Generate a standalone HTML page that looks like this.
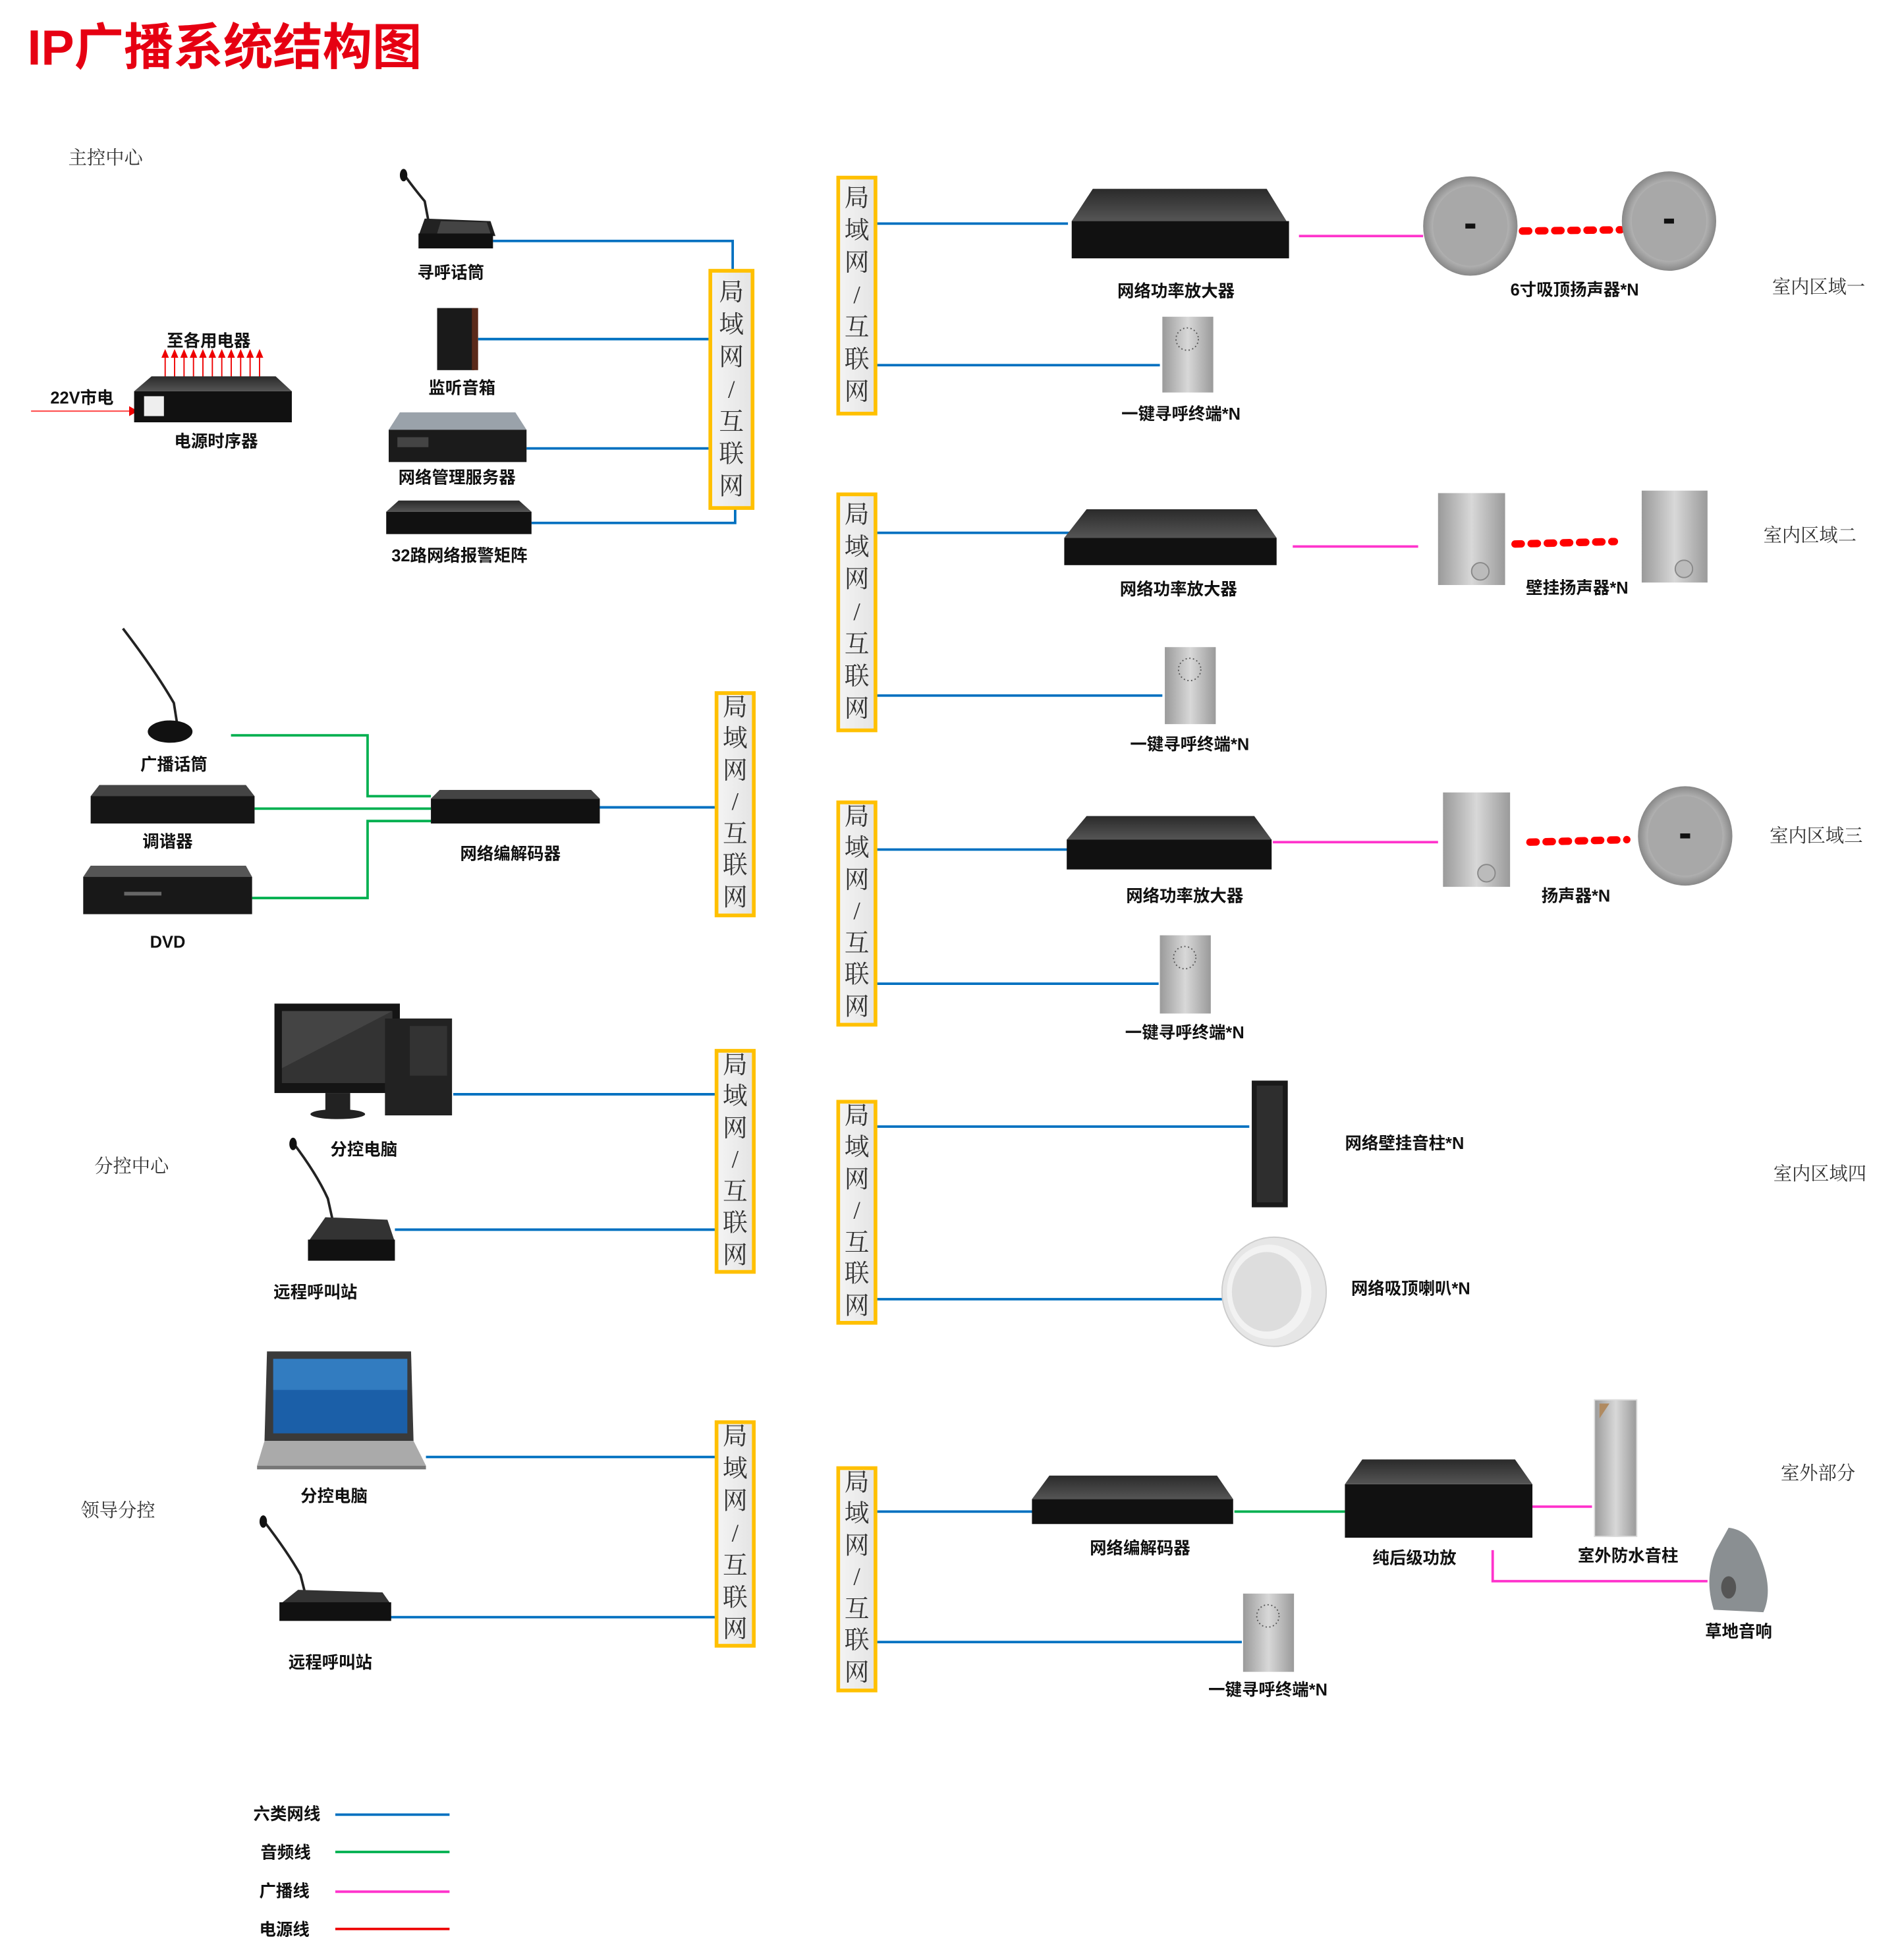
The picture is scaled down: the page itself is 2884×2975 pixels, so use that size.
<!DOCTYPE html>
<html><head><meta charset="utf-8"><style>
html,body{margin:0;padding:0;background:#fff}
svg{display:block}
.l{font-family:"Liberation Sans","Noto Sans CJK SC",sans-serif;font-weight:bold;font-size:13.5px;fill:#111;text-anchor:middle}
.z{font-family:"Liberation Serif","Noto Serif CJK SC",serif;font-size:15px;fill:#333}
.n{font-family:"Liberation Serif","Noto Serif CJK SC",serif;font-size:20px;fill:#333;text-anchor:middle}
.b{stroke:#0070C0;stroke-width:2;fill:none}
.g{stroke:#00B050;stroke-width:2;fill:none}
.p{stroke:#FF33CC;stroke-width:2;fill:none}
</style></head><body>
<svg width="2884" height="2975" viewBox="0 0 1530 1578" preserveAspectRatio="none" xmlns="http://www.w3.org/2000/svg">
<defs>
<linearGradient id="lan" x1="0" x2="1"><stop offset="0" stop-color="#f4f4f4"/><stop offset="1" stop-color="#e4e4e4"/></linearGradient>
<linearGradient id="top" x1="0" y1="0" x2="0" y2="1"><stop offset="0" stop-color="#2a2a2a"/><stop offset="1" stop-color="#555"/></linearGradient>
<linearGradient id="sil" x1="0" x2="1"><stop offset="0" stop-color="#9a9a9a"/><stop offset=".5" stop-color="#d8d8d8"/><stop offset="1" stop-color="#9a9a9a"/></linearGradient>
<radialGradient id="spk"><stop offset="0" stop-color="#c8c8c8"/><stop offset=".8" stop-color="#b0b0b0"/><stop offset="1" stop-color="#888"/></radialGradient>
</defs>

<text x="22" y="52" font-family="Liberation Sans,'Noto Sans CJK SC',sans-serif" font-weight="bold" font-size="40" fill="#e60012">IP广播系统结构图</text>
<text class="z" x="55" y="132">主控中心</text>
<text class="z" x="76" y="944">分控中心</text>
<text class="z" x="65" y="1221">领导分控</text>
<text class="z" x="1427" y="236">室内区域一</text>
<text class="z" x="1420" y="436">室内区域二</text>
<text class="z" x="1425" y="678">室内区域三</text>
<text class="z" x="1428" y="950">室内区域四</text>
<text class="z" x="1434" y="1191">室外部分</text>

<polyline class="b" points="397,194 590,194 590,217"/>
<line class="b" x1="385" y1="273" x2="571" y2="273"/>
<line class="b" x1="424" y1="361" x2="571" y2="361"/>
<polyline class="b" points="428,421 592,421 592,410"/>
<line class="b" x1="705" y1="180" x2="860" y2="180"/>
<line class="b" x1="705" y1="294" x2="934" y2="294"/>
<line class="b" x1="705" y1="429" x2="862" y2="429"/>
<line class="b" x1="705" y1="560" x2="936" y2="560"/>
<line class="b" x1="483" y1="650" x2="576" y2="650"/>
<line class="b" x1="705" y1="684" x2="860" y2="684"/>
<line class="b" x1="705" y1="792" x2="933" y2="792"/>
<line class="b" x1="365" y1="881" x2="576" y2="881"/>
<line class="b" x1="318" y1="990" x2="576" y2="990"/>
<line class="b" x1="705" y1="907" x2="1006" y2="907"/>
<line class="b" x1="705" y1="1046" x2="985" y2="1046"/>
<line class="b" x1="343" y1="1173" x2="576" y2="1173"/>
<line class="b" x1="313" y1="1302" x2="576" y2="1302"/>
<line class="b" x1="705" y1="1217" x2="832" y2="1217"/>
<line class="b" x1="705" y1="1322" x2="1000" y2="1322"/>
<polyline class="g" points="186,592 296,592 296,641 347,641"/>
<line class="g" x1="205" y1="651" x2="347" y2="651"/>
<polyline class="g" points="203,723 296,723 296,661 347,661"/>
<line class="g" x1="994" y1="1217" x2="1083" y2="1217"/>
<line class="p" x1="1046" y1="190" x2="1146" y2="190"/>
<line class="p" x1="1041" y1="440" x2="1142" y2="440"/>
<line class="p" x1="1025" y1="678" x2="1158" y2="678"/>
<line class="p" x1="1234" y1="1213" x2="1282" y2="1213"/>
<polyline class="p" points="1202,1248 1202,1273 1375,1273"/>
<g stroke="#f00" stroke-width="6" stroke-dasharray="5,8" stroke-linecap="round">
<line x1="1226" y1="186" x2="1305" y2="185"/>
<line x1="1220" y1="438" x2="1300" y2="436"/>
<line x1="1232" y1="678" x2="1310" y2="676"/>
</g>
<line x1="25" y1="331" x2="104" y2="331" stroke="#f55" stroke-width="1.2"/>
<polygon points="104,327 111,331 104,335" fill="#e00"/>
<g stroke="#e00" stroke-width="1">
<line x1="133" y1="312" x2="133" y2="287"/><line x1="140.6" y1="312" x2="140.6" y2="287"/><line x1="148.2" y1="312" x2="148.2" y2="287"/><line x1="155.8" y1="312" x2="155.8" y2="287"/><line x1="163.4" y1="312" x2="163.4" y2="287"/><line x1="171" y1="312" x2="171" y2="287"/><line x1="178.6" y1="312" x2="178.6" y2="287"/><line x1="186.2" y1="312" x2="186.2" y2="287"/><line x1="193.8" y1="312" x2="193.8" y2="287"/><line x1="201.4" y1="312" x2="201.4" y2="287"/><line x1="209" y1="312" x2="209" y2="287"/>
</g>
<g fill="#e00">
<polygon points="130,288 133,281 136,288"/><polygon points="137.6,288 140.6,281 143.6,288"/><polygon points="145.2,288 148.2,281 151.2,288"/><polygon points="152.8,288 155.8,281 158.8,288"/><polygon points="160.4,288 163.4,281 166.4,288"/><polygon points="168,288 171,281 174,288"/><polygon points="175.6,288 178.6,281 181.6,288"/><polygon points="183.2,288 186.2,281 189.2,288"/><polygon points="190.8,288 193.8,281 196.8,288"/><polygon points="198.4,288 201.4,281 204.4,288"/><polygon points="206,288 209,281 212,288"/>
</g>

<g stroke="#FFC000" stroke-width="3" fill="url(#lan)">
<rect x="572" y="218" width="34" height="191"/>
<rect x="675" y="143" width="30" height="190"/>
<rect x="675" y="398" width="30" height="190"/>
<rect x="577" y="558" width="30" height="179"/>
<rect x="675" y="646" width="30" height="179"/>
<rect x="577" y="846" width="30" height="178"/>
<rect x="675" y="887" width="30" height="178"/>
<rect x="577" y="1145" width="30" height="180"/>
<rect x="675" y="1182" width="30" height="179"/>
</g>
<g class="n">
<text x="589" y="242">局</text><text x="589" y="268">域</text><text x="589" y="294">网</text><text x="589" y="320">/</text><text x="589" y="346">互</text><text x="589" y="372">联</text><text x="589" y="398">网</text>
<text x="690" y="166">局</text><text x="690" y="192">域</text><text x="690" y="218">网</text><text x="690" y="244">/</text><text x="690" y="270">互</text><text x="690" y="296">联</text><text x="690" y="322">网</text>
<text x="690" y="421">局</text><text x="690" y="447">域</text><text x="690" y="473">网</text><text x="690" y="499">/</text><text x="690" y="525">互</text><text x="690" y="551">联</text><text x="690" y="577">网</text>
<text x="592" y="576">局</text><text x="592" y="601">域</text><text x="592" y="627">网</text><text x="592" y="652">/</text><text x="592" y="678">互</text><text x="592" y="703">联</text><text x="592" y="729">网</text>
<text x="690" y="664">局</text><text x="690" y="689">域</text><text x="690" y="715">网</text><text x="690" y="740">/</text><text x="690" y="766">互</text><text x="690" y="791">联</text><text x="690" y="817">网</text>
<text x="592" y="864">局</text><text x="592" y="889">域</text><text x="592" y="915">网</text><text x="592" y="940">/</text><text x="592" y="966">互</text><text x="592" y="991">联</text><text x="592" y="1017">网</text>
<text x="690" y="905">局</text><text x="690" y="930">域</text><text x="690" y="956">网</text><text x="690" y="981">/</text><text x="690" y="1007">互</text><text x="690" y="1032">联</text><text x="690" y="1058">网</text>
<text x="592" y="1163">局</text><text x="592" y="1189">域</text><text x="592" y="1215">网</text><text x="592" y="1241">/</text><text x="592" y="1267">互</text><text x="592" y="1293">联</text><text x="592" y="1318">网</text>
<text x="690" y="1200">局</text><text x="690" y="1225">域</text><text x="690" y="1251">网</text><text x="690" y="1276">/</text><text x="690" y="1302">互</text><text x="690" y="1327">联</text><text x="690" y="1353">网</text>
</g>

<g>
<path d="M325,140 Q332,150 342,162 L345,178" stroke="#222" stroke-width="2" fill="none"/><ellipse cx="325" cy="141" rx="3" ry="5" fill="#111"/>
<polygon points="342,176 395,178 399,190 337,190" fill="#222"/><rect x="337" y="188" width="60" height="12" fill="#111"/><polygon points="355,178 392,179 395,188 352,188" fill="#444"/>
<rect x="352" y="248" width="30" height="50" fill="#1a1a1a"/><rect x="380" y="248" width="5" height="50" fill="#5a2a1a"/>
<polygon points="122,303 222,303 235,315 108,315" fill="url(#top)"/><rect x="108" y="315" width="127" height="25" fill="#111"/><rect x="116" y="319" width="16" height="16" fill="#eee"/>
<polygon points="322,332 415,332 424,346 313,346" fill="#9aa2aa"/><rect x="313" y="346" width="111" height="26" fill="#1b1b1b"/><rect x="320" y="352" width="25" height="8" fill="#444"/>
<polygon points="321,403 418,403 428,412 311,412" fill="url(#top)"/><rect x="311" y="412" width="117" height="18" fill="#111"/>
<path d="M99,506 Q125,540 140,566 L143,585" stroke="#222" stroke-width="2" fill="none"/><ellipse cx="137" cy="589" rx="18" ry="9" fill="#111"/>
<polygon points="80,632 198,632 205,641 73,641" fill="#444"/><rect x="73" y="641" width="132" height="22" fill="#151515"/>
<polygon points="73,697 198,697 203,706 67,706" fill="#555"/><rect x="67" y="706" width="136" height="30" fill="#181818"/><rect x="100" y="718" width="30" height="3" fill="#666"/>
<polygon points="354,636 476,636 483,643 347,643" fill="#444"/><rect x="347" y="643" width="136" height="20" fill="#111"/>
<rect x="221" y="808" width="101" height="72" fill="#151515"/><rect x="227" y="814" width="89" height="58" fill="#333"/><polygon points="227,814 316,814 227,860" fill="#555" opacity=".5"/><rect x="262" y="880" width="20" height="15" fill="#222"/><ellipse cx="272" cy="897" rx="22" ry="4" fill="#222"/>
<rect x="310" y="820" width="54" height="78" fill="#222"/><rect x="330" y="826" width="30" height="40" fill="#333"/>
<path d="M236,920 Q255,945 264,965 L268,983" stroke="#222" stroke-width="2" fill="none"/><ellipse cx="236" cy="921" rx="3" ry="5" fill="#111"/>
<polygon points="262,980 312,982 318,1000 248,1000" fill="#333"/><rect x="248" y="998" width="70" height="17" fill="#111"/>
<polygon points="215,1088 331,1088 333,1160 213,1160" fill="#3a3a3a"/><rect x="220" y="1094" width="108" height="60" fill="#1b5fa8"/><rect x="220" y="1094" width="108" height="25" fill="#4a9ad8" opacity=".5"/>
<polygon points="213,1160 333,1160 343,1180 207,1180" fill="#aaa"/><rect x="207" y="1180" width="136" height="3" fill="#777"/>
<path d="M212,1224 Q232,1250 242,1268 L246,1284" stroke="#222" stroke-width="2" fill="none"/><ellipse cx="212" cy="1225" rx="3" ry="5" fill="#111"/>
<polygon points="240,1280 308,1282 315,1292 225,1292" fill="#333"/><rect x="225" y="1290" width="90" height="15" fill="#111"/>

<polygon points="880,152 1020,152 1036,178 863,178" fill="url(#top)"/><rect x="863" y="178" width="175" height="30" fill="#111"/>
<ellipse cx="1184" cy="182" rx="38" ry="40" fill="url(#spk)"/><ellipse cx="1184" cy="182" rx="30" ry="32" fill="#a8a8a8"/><rect x="1180" y="180" width="8" height="4" fill="#111"/>
<ellipse cx="1344" cy="178" rx="38" ry="40" fill="url(#spk)"/><ellipse cx="1344" cy="178" rx="30" ry="32" fill="#a8a8a8"/><rect x="1340" y="176" width="8" height="4" fill="#111"/>
<rect x="936" y="255" width="41" height="61" fill="url(#sil)"/><circle cx="956" cy="273" r="9" fill="none" stroke="#555" stroke-dasharray="1,2"/>
<polygon points="875,410 1012,410 1028,433 857,433" fill="url(#top)"/><rect x="857" y="433" width="171" height="22" fill="#111"/>
<rect x="1158" y="397" width="54" height="74" fill="url(#sil)"/><circle cx="1192" cy="460" r="7" fill="#bbb" stroke="#888"/>
<rect x="1322" y="395" width="53" height="74" fill="url(#sil)"/><circle cx="1356" cy="458" r="7" fill="#bbb" stroke="#888"/>
<rect x="938" y="521" width="41" height="62" fill="url(#sil)"/><circle cx="958" cy="539" r="9" fill="none" stroke="#555" stroke-dasharray="1,2"/>
<polygon points="875,657 1010,657 1024,676 859,676" fill="url(#top)"/><rect x="859" y="676" width="165" height="24" fill="#111"/>
<rect x="1162" y="638" width="54" height="76" fill="url(#sil)"/><circle cx="1197" cy="703" r="7" fill="#bbb" stroke="#888"/>
<ellipse cx="1357" cy="673" rx="38" ry="40" fill="url(#spk)"/><ellipse cx="1357" cy="673" rx="30" ry="32" fill="#a8a8a8"/><rect x="1353" y="671" width="8" height="4" fill="#111"/>
<rect x="934" y="753" width="41" height="63" fill="url(#sil)"/><circle cx="954" cy="771" r="9" fill="none" stroke="#555" stroke-dasharray="1,2"/>
<rect x="1008" y="870" width="29" height="102" fill="#1a1a1a"/><rect x="1012" y="874" width="21" height="94" fill="#2e2e2e"/>
<ellipse cx="1026" cy="1040" rx="42" ry="44" fill="#e6e6e6" stroke="#ccc"/><ellipse cx="1022" cy="1040" rx="34" ry="38" fill="#f2f2f2"/><ellipse cx="1020" cy="1040" rx="28" ry="32" fill="#ddd"/>
<polygon points="845,1188 980,1188 993,1207 831,1207" fill="url(#top)"/><rect x="831" y="1207" width="162" height="20" fill="#111"/>
<polygon points="1097,1175 1220,1175 1234,1195 1083,1195" fill="url(#top)"/><rect x="1083" y="1195" width="151" height="43" fill="#111"/>
<rect x="1284" y="1127" width="34" height="110" fill="url(#sil)" stroke="#ddd"/><polygon points="1288,1130 1296,1130 1288,1142" fill="#b08a60"/>
<path d="M1392,1230 Q1410,1232 1418,1255 Q1428,1280 1420,1298 L1380,1296 Q1372,1270 1382,1248 Z" fill="#8a8f92"/><ellipse cx="1392" cy="1278" rx="6" ry="9" fill="#555"/>
<rect x="1001" y="1283" width="41" height="63" fill="url(#sil)"/><circle cx="1021" cy="1301" r="9" fill="none" stroke="#555" stroke-dasharray="1,2"/>
</g>

<text class="l" x="363" y="224">寻呼话筒</text>
<text class="l" x="372" y="317">监听音箱</text>
<text class="l" x="368" y="389">网络管理服务器</text>
<text class="l" x="370" y="452">32路网络报警矩阵</text>
<text class="l" x="168" y="279">至各用电器</text>
<text class="l" x="66" y="325">22V市电</text>
<text class="l" x="174" y="360">电源时序器</text>
<text class="l" x="140" y="620">广播话筒</text>
<text class="l" x="135" y="682">调谐器</text>
<text class="l" x="135" y="763">DVD</text>
<text class="l" x="411" y="692">网络编解码器</text>
<text class="l" x="293" y="930">分控电脑</text>
<text class="l" x="254" y="1045">远程呼叫站</text>
<text class="l" x="269" y="1209">分控电脑</text>
<text class="l" x="266" y="1343">远程呼叫站</text>
<text class="l" x="947" y="239">网络功率放大器</text>
<text class="l" x="1268" y="238">6寸吸顶扬声器*N</text>
<text class="l" x="951" y="338">一键寻呼终端*N</text>
<text class="l" x="949" y="479">网络功率放大器</text>
<text class="l" x="1270" y="478">壁挂扬声器*N</text>
<text class="l" x="958" y="604">一键寻呼终端*N</text>
<text class="l" x="954" y="726">网络功率放大器</text>
<text class="l" x="1269" y="726">扬声器*N</text>
<text class="l" x="954" y="836">一键寻呼终端*N</text>
<text class="l" x="1131" y="925">网络壁挂音柱*N</text>
<text class="l" x="1136" y="1042">网络吸顶喇叭*N</text>
<text class="l" x="918" y="1251">网络编解码器</text>
<text class="l" x="1139" y="1259">纯后级功放</text>
<text class="l" x="1311" y="1257">室外防水音柱</text>
<text class="l" x="1400" y="1318">草地音响</text>
<text class="l" x="1021" y="1365">一键寻呼终端*N</text>

<text class="l" x="231" y="1465">六类网线</text>
<text class="l" x="230" y="1496">音频线</text>
<text class="l" x="229" y="1527">广播线</text>
<text class="l" x="229" y="1558">电源线</text>
<line class="b" x1="270" y1="1461" x2="362" y2="1461"/>
<line class="g" x1="270" y1="1491" x2="362" y2="1491"/>
<line class="p" x1="270" y1="1523" x2="362" y2="1523"/>
<line x1="270" y1="1553" x2="362" y2="1553" stroke="#e00" stroke-width="2"/>
</svg>
</body></html>
